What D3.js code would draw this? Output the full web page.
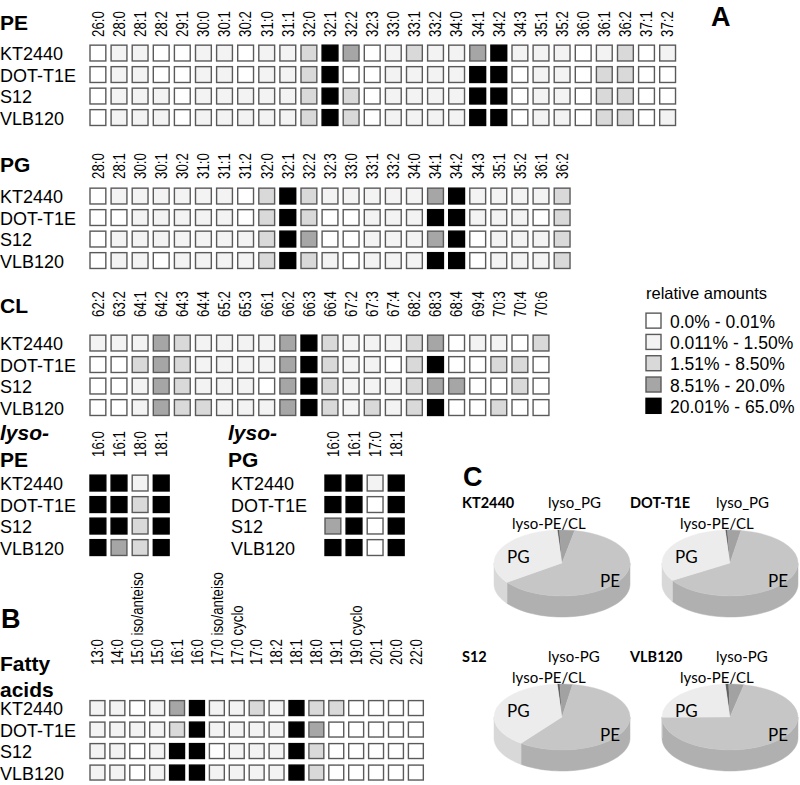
<!DOCTYPE html>
<html>
<head>
<meta charset="utf-8">
<script src="https://cdn.jsdelivr.net/npm/d3@7/dist/d3.min.js"></script>
<style>
  html, body { margin: 0; padding: 0; background: #fff; }
  svg { display: block; }
  text { font-family: "Liberation Sans", Arial, sans-serif; fill: #000; }
  .pie text { font-family: Lato, "Open Sans", sans-serif; }
</style>
</head>
<body>
<svg id="chart" width="800" height="785"></svg>
<script>
// ---------------- DATA ----------------
const samples = ["KT2440", "DOT-T1E", "S12", "VLB120"];
const levelColors = ["#ffffff", "#f3f3f3", "#d9d9d9", "#a6a6a6", "#000000"];
const legendLabels = ["0.0% - 0.01%", "0.011% - 1.50%", "1.51% - 8.50%", "8.51% - 20.0%", "20.01% - 65.0%"];

const peSpecies = ["26:0","28:0","28:1","28:2","29:1","30:0","30:1","30:2","31:0","31:1","32:0","32:1","32:2","32:3","33:0","33:1","33:2","34:0","34:1","34:2","34:3","35:1","35:2","36:0","36:1","36:2","37:1","37:2"];
const peLevels = [
  [0,1,1,0,0,1,1,0,1,1,2,4,3,0,1,2,1,1,3,4,1,1,1,0,1,2,0,1],
  [0,1,1,0,0,1,1,0,1,1,2,4,0,0,1,1,1,1,4,4,0,1,1,0,2,2,0,0],
  [0,1,1,1,0,1,1,1,1,1,2,4,2,0,1,1,1,1,4,4,0,1,1,0,2,2,0,0],
  [0,1,1,1,0,1,1,1,1,1,2,4,2,0,1,1,1,1,4,4,0,1,1,0,2,2,0,1]
];

const pgSpecies = ["28:0","28:1","30:0","30:1","30:2","31:0","31:1","31:2","32:0","32:1","32:2","32:3","33:0","33:1","33:2","34:0","34:1","34:2","34:3","35:1","35:2","36:1","36:2"];
const pgLevels = [
  [0,1,1,1,1,1,1,0,2,4,2,1,1,1,1,1,3,4,1,1,1,1,2],
  [0,0,1,1,1,1,1,0,2,4,2,0,0,1,1,1,4,4,1,1,1,0,2],
  [0,1,1,1,1,1,1,1,2,4,3,0,0,1,1,1,3,4,0,1,1,1,2],
  [0,1,1,0,1,1,1,1,2,4,2,1,0,1,1,1,4,4,0,1,1,1,2]
];

const clSpecies = ["62:2","63:2","64:1","64:2","64:3","64:4","65:2","65:3","66:1","66:2","66:3","66:4","67:2","67:3","67:4","68:2","68:3","68:4","69:4","70:3","70:4","70:6"];
const clLevels = [
  [1,1,1,3,2,1,1,1,1,3,4,2,1,1,1,2,3,0,1,1,0,2],
  [0,0,2,3,2,1,1,1,1,3,4,2,1,1,0,2,4,0,0,2,2,0],
  [0,0,1,3,2,1,1,1,0,3,4,2,1,1,1,2,3,3,0,0,2,0],
  [0,0,1,3,2,2,1,1,1,3,4,2,1,2,1,2,4,0,0,2,0,0]
];

const lysoPESpecies = ["16:0","16:1","18:0","18:1"];
const lysoPELevels = [
  [4,4,1,4],
  [4,4,2,4],
  [4,4,2,4],
  [4,3,2,4]
];

const lysoPGSpecies = ["16:0","16:1","17:0","18:1"];
const lysoPGLevels = [
  [4,4,1,4],
  [4,4,0,4],
  [3,4,0,4],
  [4,4,0,4]
];

const faSpecies = ["13:0","14:0","15:0 iso/anteiso","15:0","16:1","16:0","17:0 iso/anteiso","17:0 cyclo","17:0","18:2","18:1","18:0","19:1","19:0 cyclo","20:1","20:0","22:0"];
const faLevels = [
  [1,1,0,1,3,4,1,1,2,1,4,2,2,0,0,0,0],
  [1,1,1,1,2,4,1,1,1,1,4,3,0,0,0,0,0],
  [1,1,0,1,4,4,0,1,1,1,4,2,0,0,0,0,0],
  [1,1,0,1,4,4,1,1,1,1,4,2,0,0,0,0,0]
];

// pie: clockwise from 12 o'clock
const pieClasses = ["lyso_PG", "lyso-PE/CL", "PE", "PG"];
const pieValues = {
  "KT2440":  [0.5, 3.6, 62.0, 33.9],
  "DOT-T1E": [0.5, 3.2, 63.5, 32.8],
  "S12":     [0.6, 3.0, 57.8, 38.6],
  "VLB120":  [0.8, 3.6, 71.6, 24.0]
};
const pieTopLabel = {"KT2440": "lyso_PG", "DOT-T1E": "lyso_PG", "S12": "lyso-PG", "VLB120": "lyso-PG"};

// ---------------- DRAW ----------------
const svg = d3.select("#chart");
const color = d3.scaleOrdinal().domain([0,1,2,3,4]).range(levelColors);

function grid(species, levels, opt) {
  const g = svg.append("g");
  const n = species.length;
  const x = d3.scaleBand().domain(species)
    .range([opt.x0 - 0.125 * opt.px, opt.x0 - 0.125 * opt.px + n * opt.px])
    .paddingInner(0.25).paddingOuter(0.125);
  const y = d3.scaleBand().domain(samples)
    .range([opt.y0 - 0.125 * opt.py, opt.y0 - 0.125 * opt.py + 4 * opt.py])
    .paddingInner(0.25).paddingOuter(0.125);
  const bw = Math.min(x.bandwidth(), y.bandwidth());

  samples.forEach((s, i) => {
    g.selectAll(null).data(species).enter().append("rect")
      .attr("x", d => x(d) + (x.bandwidth() - bw) / 2)
      .attr("y", y(s) + (y.bandwidth() - bw) / 2)
      .attr("width", bw).attr("height", bw)
      .attr("fill", (d, j) => color(levels[i][j]))
      .attr("stroke", (d, j) => levels[i][j] === 4 ? "#000" : "#5a5a5a")
      .attr("stroke-width", 1.4);
  });
  // row labels
  g.selectAll(null).data(samples).enter().append("text")
    .attr("x", opt.labelX).attr("y", d => y(d) + y.bandwidth() / 2 + 7)
    .style("font-size", "18px").text(d => d);
  // column labels
  g.selectAll(null).data(species).enter().append("text")
    .attr("transform", d => `translate(${x(d) + x.bandwidth() / 2 + 5.8},${opt.colY}) rotate(-90) scale(0.83,1)`)
    .attr("text-anchor", "start")
    .style("font-size", "16px").text(d => d);
  return g;
}

function header(lines, x, ys, italicFirst) {
  lines.forEach((t, i) => {
    svg.append("text").attr("x", x).attr("y", ys[i])
      .style("font-size", "21px").style("font-weight", "bold")
      .style("font-style", (italicFirst && i === 0) ? "italic" : "normal")
      .text(t);
  });
}

// PE
grid(peSpecies, peLevels, {x0: 90, px: 21.1, y0: 45, py: 21.5, labelX: 0, colY: 37});
header(["PE"], 0, [30]);
// PG
grid(pgSpecies, pgLevels, {x0: 90, px: 21.1, y0: 188, py: 21.5, labelX: 0, colY: 179});
header(["PG"], 0, [172]);
// CL
grid(clSpecies, clLevels, {x0: 90, px: 21.1, y0: 335, py: 21.5, labelX: 0, colY: 317});
header(["CL"], 0, [313]);
// lyso-PE
grid(lysoPESpecies, lysoPELevels, {x0: 90, px: 21.1, y0: 475, py: 21.5, labelX: 0, colY: 457});
header(["lyso-", "PE"], 0, [440, 467], true);
// lyso-PG
grid(lysoPGSpecies, lysoPGLevels, {x0: 325, px: 21.1, y0: 475, py: 21.5, labelX: 231, colY: 457});
header(["lyso-", "PG"], 228, [440, 467], true);
// Fatty acids
grid(faSpecies, faLevels, {x0: 90, px: 19.9, y0: 700, py: 21.5, labelX: 0, colY: 665});
header(["Fatty", "acids"], 0, [671, 697]);

// panel letters
[["A", 711, 26], ["B", 1, 628], ["C", 463, 486]].forEach(([t, x, y]) => {
  svg.append("text").attr("x", x).attr("y", y)
    .style("font-size", "27px").style("font-weight", "bold").text(t);
});

// legend
const lg = svg.append("g");
lg.append("text").attr("x", 646).attr("y", 299).style("font-size", "16.5px").text("relative amounts");
const ly = d3.scaleBand().domain(d3.range(5)).range([311, 416]).paddingInner(0.27).paddingOuter(0.1);
lg.selectAll("rect").data(d3.range(5)).enter().append("rect")
  .attr("x", 646).attr("y", d => ly(d)).attr("width", 15).attr("height", 15)
  .attr("fill", d => color(d)).attr("stroke", d => d === 4 ? "#000" : "#5a5a5a").attr("stroke-width", 1.4);
lg.selectAll("text.l").data(legendLabels).enter().append("text").attr("class", "l")
  .attr("x", 670).attr("y", (d, i) => ly(i) + 14.5).style("font-size", "17.5px").text(d => d);

// ---------------- PIES ----------------
const topCol = {"lyso_PG": "#606060", "lyso-PE/CL": "#a2a2a2", "PE": "#c6c6c6", "PG": "#ececec"};
const sideCol = {"lyso_PG": "#505050", "lyso-PE/CL": "#8c8c8c", "PE": "#b0b0b0", "PG": "#d8d8d8"};
const pieLayout = {"KT2440": [562, 563], "DOT-T1E": [730, 563], "S12": [562, 717], "VLB120": [730, 717]};
const RX = 68, RY = 33, DEPTH = 21, OFF = -0.07;

function drawPie(name) {
  const [cx, cy] = pieLayout[name];
  const g = svg.append("g").attr("class", "pie");
  const arcs = d3.pie().sort(null).startAngle(OFF).endAngle(OFF + 2 * Math.PI)(pieValues[name]);
  const ex = d3.scaleLinear().domain([-1, 1]).range([cx - RX, cx + RX]);
  const ey = d3.scaleLinear().domain([-1, 1]).range([cy - RY, cy + RY]);
  const pt = (a, dz) => [ex(Math.sin(a)), ey(-Math.cos(a)) + (dz || 0)];
  // sides (front half)
  arcs.forEach((a, i) => {
    const a0 = Math.max(a.startAngle, Math.PI / 2), a1 = Math.min(a.endAngle, 3 * Math.PI / 2);
    if (a1 <= a0) return;
    const steps = 40, topPts = [], botPts = [];
    for (let k = 0; k <= steps; k++) {
      const t = a0 + (a1 - a0) * k / steps;
      topPts.push(pt(t)); botPts.push(pt(t, DEPTH));
    }
    g.append("path").attr("d", d3.line()(topPts.concat(botPts.reverse())) + "Z")
      .attr("fill", sideCol[pieClasses[i]]).attr("stroke", sideCol[pieClasses[i]]).attr("stroke-width", 0.5);
  });
  // tops
  const arc = d3.arc().innerRadius(0).outerRadius(RX);
  g.selectAll("path.top").data(arcs).enter().append("path").attr("class", "top")
    .attr("transform", `translate(${cx},${cy}) scale(1,${RY / RX})`)
    .attr("d", arc)
    .attr("fill", (d, i) => topCol[pieClasses[i]])
    .attr("stroke", (d, i) => topCol[pieClasses[i]]).attr("stroke-width", 0.5);
  // labels
  g.append("text").attr("x", cx - 100).attr("y", cy - 55).style("font-size", "14.5px").style("font-weight", "bold").text(name);
  g.append("text").attr("x", cx - 14).attr("y", cy - 55).style("font-size", "15px").text(pieTopLabel[name]);
  g.append("text").attr("x", cx - 50).attr("y", cy - 34).style("font-size", "15px").text("lyso-PE/CL");
  g.append("text").attr("x", cx - 55).attr("y", cy).style("font-size", "17px").text("PG");
  g.append("text").attr("x", cx + 38).attr("y", cy + 24).style("font-size", "17px").text("PE");
}
samples.forEach(drawPie);
</script>
</body>
</html>
